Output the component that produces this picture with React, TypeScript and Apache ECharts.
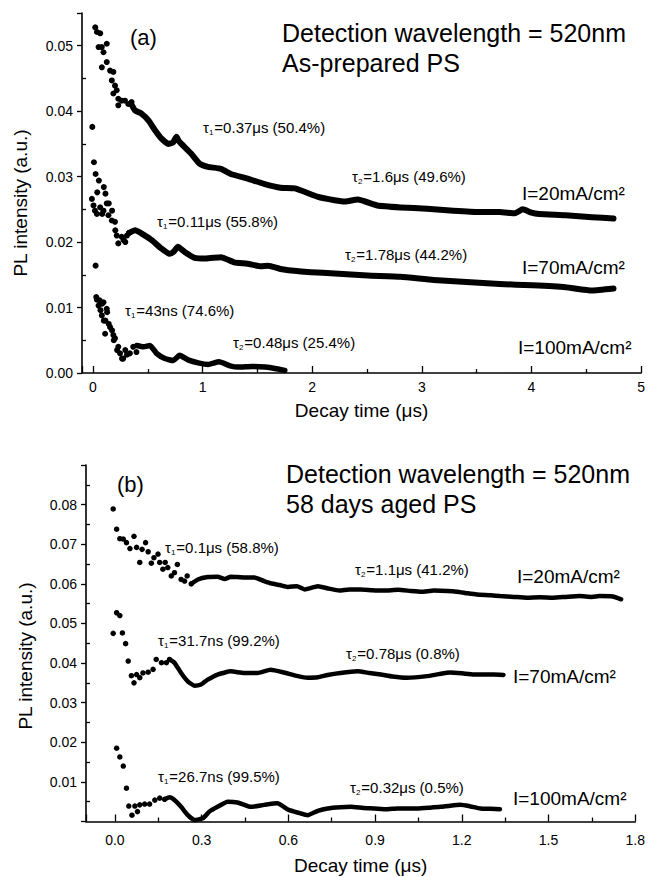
import React, { useEffect, useRef } from 'react';
import * as echarts from 'echarts';

const FONT = '"Liberation Sans", Arial, Helvetica, sans-serif';

// ---------- Panel (a): as-prepared PS, decay time (µs) vs PL intensity ----------
const a20Early = [
  [0.021, 0.0528], [0.036, 0.0521], [0.051, 0.0498], [0.066, 0.0519], [0.081, 0.0498],
  [0.081, 0.0467], [0.096, 0.049], [0.126, 0.0503], [0.126, 0.0475], [0.156, 0.0462],
  [0.172, 0.0447], [0.186, 0.046], [0.186, 0.0427], [0.201, 0.0439], [0.217, 0.0432],
  [0.231, 0.0419], [0.231, 0.0409], [0.262, 0.0416], [0.292, 0.0416], [0.322, 0.0411],
  [0.352, 0.0414],
];
const a20Tail = [
  [0.352, 0.041], [0.385, 0.0401], [0.445, 0.0396], [0.506, 0.0386], [0.566, 0.0371],
  [0.626, 0.0358], [0.686, 0.035], [0.73, 0.0352], [0.762, 0.0361], [0.78, 0.0355],
  [0.807, 0.035], [0.897, 0.0335], [0.972, 0.032], [1.048, 0.0315], [1.168, 0.0312],
  [1.258, 0.0304], [1.41, 0.0297], [1.56, 0.0289], [1.71, 0.0283], [1.843, 0.0282],
  [2.053, 0.0269], [2.204, 0.0264], [2.3, 0.0262], [2.415, 0.0265], [2.595, 0.0256],
  [2.806, 0.0253], [3.047, 0.0251], [3.288, 0.0248], [3.529, 0.0246], [3.709, 0.0246],
  [3.85, 0.0244], [3.92, 0.025], [4.0, 0.0245], [4.07, 0.0243], [4.312, 0.0241],
  [4.553, 0.0238], [4.748, 0.0236],
];
const a70Early = [
  [-0.006, 0.0376], [0.009, 0.0322], [0.024, 0.0304], [-0.01, 0.0266], [0.005, 0.0256],
  [0.018, 0.0248], [0.024, 0.0164], [0.036, 0.0243], [0.039, 0.0276], [0.054, 0.0294],
  [0.066, 0.0253], [0.084, 0.0243], [0.096, 0.0248], [0.099, 0.0284], [0.114, 0.0274],
  [0.126, 0.0259], [0.141, 0.0241], [0.144, 0.0259], [0.172, 0.0233], [0.174, 0.0248],
  [0.201, 0.0231], [0.204, 0.0218], [0.217, 0.021], [0.231, 0.0198], [0.262, 0.0208],
  [0.28, 0.0203], [0.295, 0.02], [0.31, 0.021], [0.33, 0.0214],
];
const a70Tail = [
  [0.33, 0.0214], [0.385, 0.0218], [0.445, 0.0213], [0.536, 0.0203], [0.626, 0.019],
  [0.701, 0.0182], [0.74, 0.0186], [0.775, 0.0193], [0.837, 0.0185], [0.927, 0.0176],
  [1.03, 0.0175], [1.168, 0.0177], [1.288, 0.0169], [1.41, 0.0167], [1.53, 0.0163],
  [1.6, 0.0164], [1.71, 0.0159], [1.9, 0.0155], [1.99, 0.0154], [2.204, 0.0152],
  [2.505, 0.0149], [2.806, 0.0147], [3.107, 0.0142], [3.408, 0.0139], [3.709, 0.0136],
  [4.011, 0.0134], [4.312, 0.0131], [4.553, 0.0126], [4.748, 0.0129],
];
const a100Early = [
  [0.03, 0.0116], [0.036, 0.0112], [0.051, 0.0103], [0.06, 0.0111], [0.069, 0.0096],
  [0.081, 0.0088], [0.084, 0.0106], [0.096, 0.0108], [0.099, 0.008], [0.111, 0.006],
  [0.114, 0.008], [0.126, 0.0098], [0.129, 0.0093], [0.144, 0.0075], [0.156, 0.007],
  [0.174, 0.0065], [0.186, 0.0058], [0.19, 0.005], [0.201, 0.0053], [0.22, 0.0035],
  [0.231, 0.004], [0.247, 0.003], [0.265, 0.0022], [0.276, 0.0022], [0.295, 0.0035],
  [0.31, 0.0028], [0.337, 0.003], [0.367, 0.004], [0.397, 0.0032],
];
const a100Tail = [
  [0.4, 0.0042], [0.46, 0.004], [0.52, 0.0042], [0.58, 0.003], [0.656, 0.0022],
  [0.732, 0.0019], [0.79, 0.0027], [0.867, 0.002], [0.97, 0.0015], [1.05, 0.0013],
  [1.15, 0.0017], [1.25, 0.0011], [1.33, 0.0009], [1.45, 0.001], [1.57, 0.0009],
  [1.66, 0.0007], [1.75, 0.0004],
];

// ---------- Panel (b): 58 days aged PS ----------
const b20Early = [
  [-0.006, 0.0789], [0.006, 0.0738], [0.017, 0.0714], [0.029, 0.0713], [0.04, 0.0704],
  [0.052, 0.0689], [0.066, 0.072], [0.075, 0.0692], [0.086, 0.0654], [0.094, 0.0687],
  [0.106, 0.0704], [0.115, 0.0681], [0.126, 0.0652], [0.135, 0.0666], [0.149, 0.0675],
  [0.155, 0.0654], [0.166, 0.0637], [0.174, 0.0654], [0.183, 0.0641], [0.195, 0.062],
  [0.206, 0.0628], [0.216, 0.0649], [0.229, 0.0611], [0.241, 0.0607], [0.25, 0.062],
  [0.264, 0.06],
];
const b20Tail = [
  [0.264, 0.06], [0.287, 0.0611], [0.321, 0.0617], [0.355, 0.0618], [0.38, 0.0612],
  [0.401, 0.0618], [0.447, 0.0616], [0.482, 0.0616], [0.516, 0.0607], [0.541, 0.0601],
  [0.57, 0.0597], [0.599, 0.0592], [0.63, 0.0594], [0.656, 0.0586], [0.702, 0.0594],
  [0.74, 0.0588], [0.776, 0.0583], [0.81, 0.0586], [0.851, 0.0586], [0.89, 0.0584],
  [0.931, 0.0583], [0.98, 0.0585], [1.023, 0.0582], [1.06, 0.058], [1.103, 0.0583],
  [1.15, 0.0582], [1.183, 0.058], [1.22, 0.0576], [1.252, 0.0573], [1.3, 0.0571],
  [1.332, 0.0569], [1.38, 0.0567], [1.424, 0.0565], [1.47, 0.0566], [1.516, 0.0565],
  [1.56, 0.0567], [1.607, 0.0569], [1.65, 0.0567], [1.676, 0.0569], [1.722, 0.0568],
  [1.751, 0.0561],
];
const b70Early = [
  [-0.006, 0.0475], [0.006, 0.0527], [0.017, 0.052], [0.026, 0.0476], [0.037, 0.0449],
  [0.046, 0.0405], [0.057, 0.0368], [0.066, 0.035], [0.075, 0.0371], [0.086, 0.0363],
  [0.097, 0.0375], [0.115, 0.0377], [0.132, 0.0384], [0.143, 0.0409], [0.161, 0.0401],
  [0.178, 0.0401], [0.189, 0.0409],
];
const b70Tail = [
  [0.189, 0.0409], [0.206, 0.0401], [0.229, 0.0375], [0.252, 0.0354], [0.275, 0.0343],
  [0.298, 0.0346], [0.321, 0.0358], [0.355, 0.0371], [0.401, 0.0379], [0.447, 0.0375],
  [0.493, 0.0375], [0.539, 0.0383], [0.585, 0.0376], [0.633, 0.0367], [0.667, 0.0363],
  [0.702, 0.0364], [0.736, 0.037], [0.78, 0.0375], [0.839, 0.0379], [0.88, 0.0375],
  [0.92, 0.0371], [0.96, 0.0366], [1.011, 0.0363], [1.08, 0.0367], [1.12, 0.0372],
  [1.16, 0.0376], [1.2, 0.0374], [1.241, 0.0371], [1.31, 0.0371], [1.344, 0.037],
];
const b100Early = [
  [0.006, 0.0185], [0.017, 0.0163], [0.029, 0.014], [0.04, 0.0084], [0.048, 0.0039],
  [0.059, 0.0016], [0.069, 0.0039], [0.078, 0.0025], [0.086, 0.0042], [0.103, 0.0044],
  [0.12, 0.0044], [0.138, 0.0054], [0.155, 0.0059], [0.172, 0.0056],
];
const b100Tail = [
  [0.172, 0.0056], [0.189, 0.0061], [0.206, 0.0054], [0.229, 0.0037], [0.252, 0.0016],
  [0.275, 0.0004], [0.304, 0.0008], [0.327, 0.0025], [0.355, 0.0037], [0.39, 0.005],
  [0.424, 0.0048], [0.47, 0.0037], [0.516, 0.0042], [0.562, 0.0046], [0.599, 0.003],
  [0.635, 0.0022], [0.667, 0.0016], [0.702, 0.0027], [0.736, 0.0033], [0.78, 0.0036],
  [0.816, 0.0037], [0.86, 0.0034], [0.897, 0.0033], [0.94, 0.0031], [0.977, 0.0033],
  [1.046, 0.0033], [1.09, 0.0035], [1.126, 0.0037], [1.16, 0.004], [1.195, 0.0042],
  [1.23, 0.0038], [1.264, 0.0033], [1.3, 0.0032], [1.332, 0.0031],
];

const X_TITLE = 'Decay time (μs)';
const Y_TITLE = 'PL intensity (a.u.)';

const BLACK = '#000';

const dots = (data: number[][], xi: number, yi: number, size: number) => ({
  type: 'scatter',
  xAxisIndex: xi,
  yAxisIndex: yi,
  data,
  symbol: 'circle',
  symbolSize: size,
  itemStyle: { color: BLACK, opacity: 1 },
  silent: true,
});

const trace = (data: number[][], xi: number, yi: number, w: number) => ({
  type: 'line',
  xAxisIndex: xi,
  yAxisIndex: yi,
  data,
  showSymbol: false,
  symbol: 'none',
  smooth: 0.15,
  lineStyle: { color: BLACK, width: w, cap: 'round', join: 'round', opacity: 1 },
  silent: true,
});

const xAxisCfg = (gi: number, min: number, max: number, split: number, fmt: (v: number) => string, margin: number, gap: number) => ({
  gridIndex: gi,
  type: 'value',
  min,
  max,
  splitNumber: split,
  axisLine: { onZero: false, lineStyle: { color: BLACK, width: 1.6 } },
  axisTick: { inside: true, length: 7, lineStyle: { color: BLACK, width: 1.3 } },
  minorTick: { show: true, splitNumber: 2, length: 4, lineStyle: { color: BLACK, width: 1.3 } },
  splitLine: { show: false },
  axisLabel: { formatter: fmt, color: BLACK, fontSize: 14, fontFamily: FONT, margin },
  name: X_TITLE,
  nameLocation: 'middle',
  nameGap: gap,
  nameTextStyle: { fontSize: 19, fontFamily: FONT, color: BLACK, verticalAlign: 'middle' },
});

const yMain = (gi: number, max: number, fmt: (v: number) => string) => ({
  gridIndex: gi,
  type: 'value',
  position: 'left',
  min: 0,
  max,
  interval: 0.01,
  axisLine: { show: true, onZero: false, lineStyle: { color: BLACK, width: 1.6 } },
  axisTick: { show: true, inside: false, length: 5, lineStyle: { color: BLACK, width: 1.3 } },
  minorTick: { show: false },
  splitLine: { show: false },
  axisLabel: { formatter: fmt, color: BLACK, fontSize: 14, fontFamily: FONT, margin: 9 },
});

const yMinor = (gi: number, max: number) => ({
  gridIndex: gi,
  type: 'value',
  position: 'left',
  min: 0,
  max,
  interval: 0.01,
  axisLine: { show: false, onZero: false },
  axisTick: { show: false, inside: true },
  minorTick: { show: true, splitNumber: 2, length: 4, lineStyle: { color: BLACK, width: 1.3 } },
  splitLine: { show: false },
  axisLabel: { show: false },
});

const tau = (x: number, y: number, sub: string, rest: string) => ({
  type: 'text',
  x,
  y,
  silent: true,
  style: {
    text: `{t|τ}{s|${sub}}{n|${rest}}`,
    rich: {
      t: { fontSize: 15, fontFamily: FONT, fill: BLACK, verticalAlign: 'top', lineHeight: 16 },
      s: { fontSize: 8, fontFamily: FONT, fill: BLACK, verticalAlign: 'bottom', lineHeight: 9, padding: [12, 1, 0, 0] },
      n: { fontSize: 15, fontFamily: FONT, fill: BLACK, verticalAlign: 'top', lineHeight: 16 },
    },
    align: 'left',
    verticalAlign: 'middle',
    textAlign: 'left',
    textVerticalAlign: 'middle',
  },
});

const txt = (x: number, y: number, text: string, size: number) => ({
  type: 'text',
  x,
  y,
  silent: true,
  style: {
    text,
    fill: BLACK,
    font: `${size}px ${FONT}`,
    align: 'left',
    verticalAlign: 'middle',
    textAlign: 'left',
    textVerticalAlign: 'middle',
  },
});

const yTitle = (x: number, y: number) => ({
  type: 'text',
  x,
  y,
  rotation: Math.PI / 2,
  silent: true,
  style: {
    text: Y_TITLE,
    fill: BLACK,
    font: `19px ${FONT}`,
    align: 'center',
    verticalAlign: 'middle',
    textAlign: 'center',
    textVerticalAlign: 'middle',
  },
});

const fmtYA = (v: number) => (Math.abs(v * 100 - Math.round(v * 100)) < 1e-6 ? v.toFixed(2) : '');
const fmtYB = (v: number) => (v > 0.0001 && v < 0.0895 && Math.abs(v * 100 - Math.round(v * 100)) < 1e-6 ? v.toFixed(2) : '');
const fmtXA = (v: number) => (v < -0.01 ? '' : String(Math.round(v)));
const fmtXB = (v: number) => (v < -0.01 ? '' : v.toFixed(1));

export default function App() {
  const ref = useRef<HTMLDivElement>(null);

  useEffect(() => {
    if (!ref.current) return;
    const chart = echarts.init(ref.current, null, { renderer: 'svg' });
    const option: any = {
      animation: false,
      backgroundColor: '#fff',
      grid: [
        { left: 82, top: 13, width: 564, height: 360 },
        { left: 86, top: 465, width: 553, height: 356.5 },
      ],
      xAxis: [
        xAxisCfg(0, -0.1, 5, 5, fmtXA, 7, 37),
        xAxisCfg(1, -0.1, 1.8, 6, fmtXB, 11, 43.5),
      ],
      yAxis: [yMain(0, 0.055, fmtYA), yMinor(0, 0.055), yMain(1, 0.09, fmtYB), yMinor(1, 0.09)],
      series: [
        dots(a20Early, 0, 0, 6),
        trace(a20Tail, 0, 0, 6),
        dots(a70Early, 0, 0, 6),
        trace(a70Tail, 0, 0, 6),
        dots(a100Early, 0, 0, 6),
        trace(a100Tail, 0, 0, 5.5),
        dots(b20Early, 1, 2, 5.5),
        trace(b20Tail, 1, 2, 4.5),
        dots(b70Early, 1, 2, 5.5),
        trace(b70Tail, 1, 2, 4.5),
        dots(b100Early, 1, 2, 5.5),
        trace(b100Tail, 1, 2, 4.5),
      ],
      graphic: [
        yTitle(20, 203),
        yTitle(25, 656),
        // panel (a)
        txt(130, 37, '(a)', 22),
        txt(282, 33, 'Detection wavelength = 520nm', 25),
        txt(282, 63, 'As-prepared PS', 25),
        tau(203, 128, '1', '=0.37μs (50.4%)'),
        tau(352, 177, '2', '=1.6μs (49.6%)'),
        txt(522, 193, 'I=20mA/cm²', 19),
        tau(157, 222, '1', '=0.11μs (55.8%)'),
        tau(345, 255, '2', '=1.78μs (44.2%)'),
        txt(522, 267, 'I=70mA/cm²', 19),
        tau(125, 311, '1', '=43ns (74.6%)'),
        tau(233, 343, '2', '=0.48μs (25.4%)'),
        txt(518, 347, 'I=100mA/cm²', 19),
        // panel (b)
        txt(117, 484, '(b)', 22),
        txt(286, 474, 'Detection wavelength = 520nm', 25),
        txt(286, 504, '58 days aged PS', 25),
        tau(165, 548, '1', '=0.1μs (58.8%)'),
        tau(355, 570, '2', '=1.1μs (41.2%)'),
        txt(517, 576, 'I=20mA/cm²', 19),
        tau(158, 641, '1', '=31.7ns (99.2%)'),
        tau(346, 654, '2', '=0.78μs (0.8%)'),
        txt(513, 676, 'I=70mA/cm²', 19),
        tau(158, 777, '1', '=26.7ns (99.5%)'),
        tau(350, 788, '2', '=0.32μs (0.5%)'),
        txt(513, 798, 'I=100mA/cm²', 19),
      ],
    };
    chart.setOption(option);
    return () => chart.dispose();
  }, []);

  return (
    <div
      ref={ref}
      style={{ position: 'absolute', left: 0, top: 0, width: 648, height: 877, background: '#fff' }}
    />
  );
}
